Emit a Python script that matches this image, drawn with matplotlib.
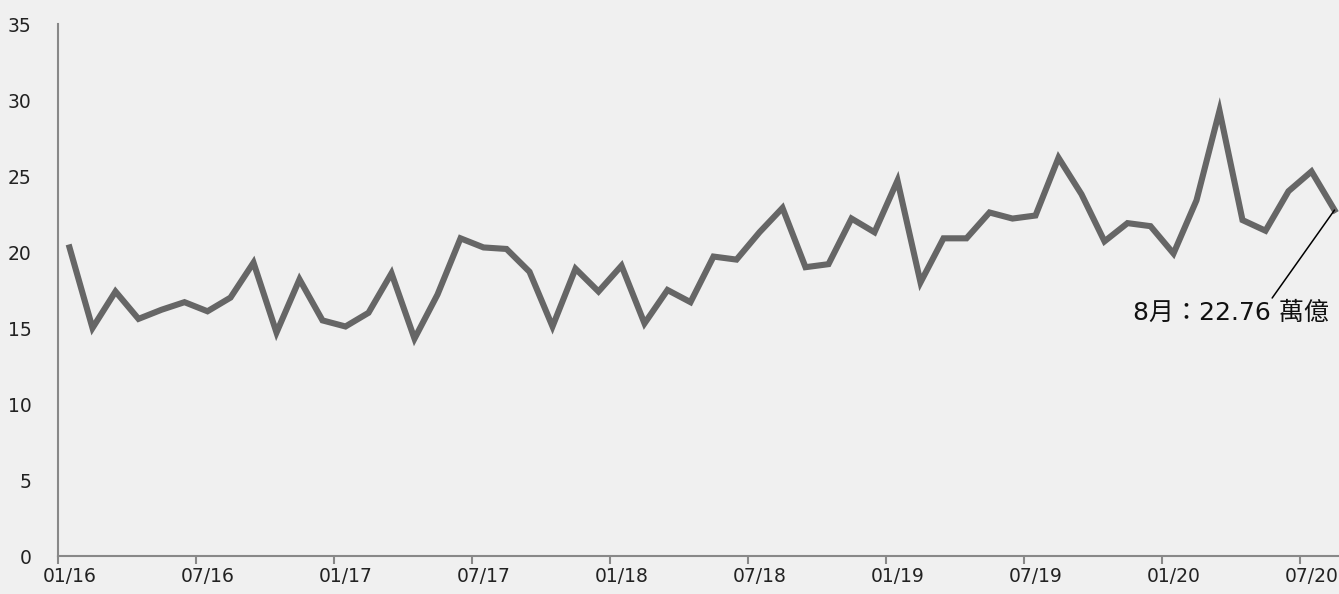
import numpy as np
import matplotlib
matplotlib.use("Agg")
import matplotlib.pyplot as plt

plt.rcParams['font.family'] = ['DejaVu Sans', 'Noto Sans CJK TC']

# monthly values, 01/16 .. 08/20
months = [f"{m:02d}/{y}" for y in range(16, 21) for m in range(1, 13)][:56]
values = [20.3, 15.0, 17.4, 15.6, 16.2, 16.7, 16.1, 17.0, 19.3, 14.7, 18.2, 15.5,
          15.1, 16.0, 18.6, 14.3, 17.2, 20.9, 20.3, 20.2, 18.7, 15.1, 18.9, 17.4,
          19.1, 15.3, 17.5, 16.7, 19.7, 19.5, 21.3, 22.9, 19.0, 19.2, 22.2, 21.3,
          24.7, 18.0, 20.9, 20.9, 22.6, 22.2, 22.4, 26.2, 23.8, 20.7, 21.9, 21.7,
          19.9, 23.4, 29.3, 22.1, 21.4, 24.0, 25.3, 22.76]
label_text = "8月：22.76 萬億"

bg = '#f0f0f0'
fig = plt.figure(figsize=(13.39, 5.94), dpi=100, facecolor=bg)
ax = fig.add_axes([58 / 1339, 38 / 594, 1288 / 1339, 532 / 594])
ax.set_facecolor(bg)

x = np.arange(len(values))
ax.plot(x, values, color='#666666', lw=4.4, solid_joinstyle='miter', clip_on=False)

ax.set_xlim(-0.5, len(values) - 0.5)
ax.set_ylim(0, 35)
ax.set_yticks(range(0, 36, 5))

# labels sit on the month, tick marks on the boundaries
lab_idx = list(range(0, len(values), 6))
ax.set_xticks(lab_idx)
ax.set_xticklabels([months[i] for i in lab_idx])
ax.set_xticks([i - 0.5 for i in lab_idx], minor=True)
ax.tick_params(axis='x', which='major', length=0, pad=8, labelsize=13.5, labelcolor='#222222')
ax.tick_params(axis='x', which='minor', length=6, width=1.5, color='#888888')
ax.tick_params(axis='y', length=0, pad=19, labelsize=13.5, labelcolor='#222222')

for s in ['top', 'right']:
    ax.spines[s].set_visible(False)
for s in ['left', 'bottom']:
    ax.spines[s].set_color('#888888')
    ax.spines[s].set_linewidth(1.5)

ax.annotate(label_text, xy=(x[-1], values[-1]), xytext=(50.5, 16.0),
            ha='center', va='center', fontsize=18, color='#111111',
            arrowprops=dict(arrowstyle='-', color='black', lw=1.1,
                            shrinkA=0, shrinkB=0,
                            relpos=(0.70, 1.0)))

fig.savefig('out.png', dpi=100, facecolor=bg)
